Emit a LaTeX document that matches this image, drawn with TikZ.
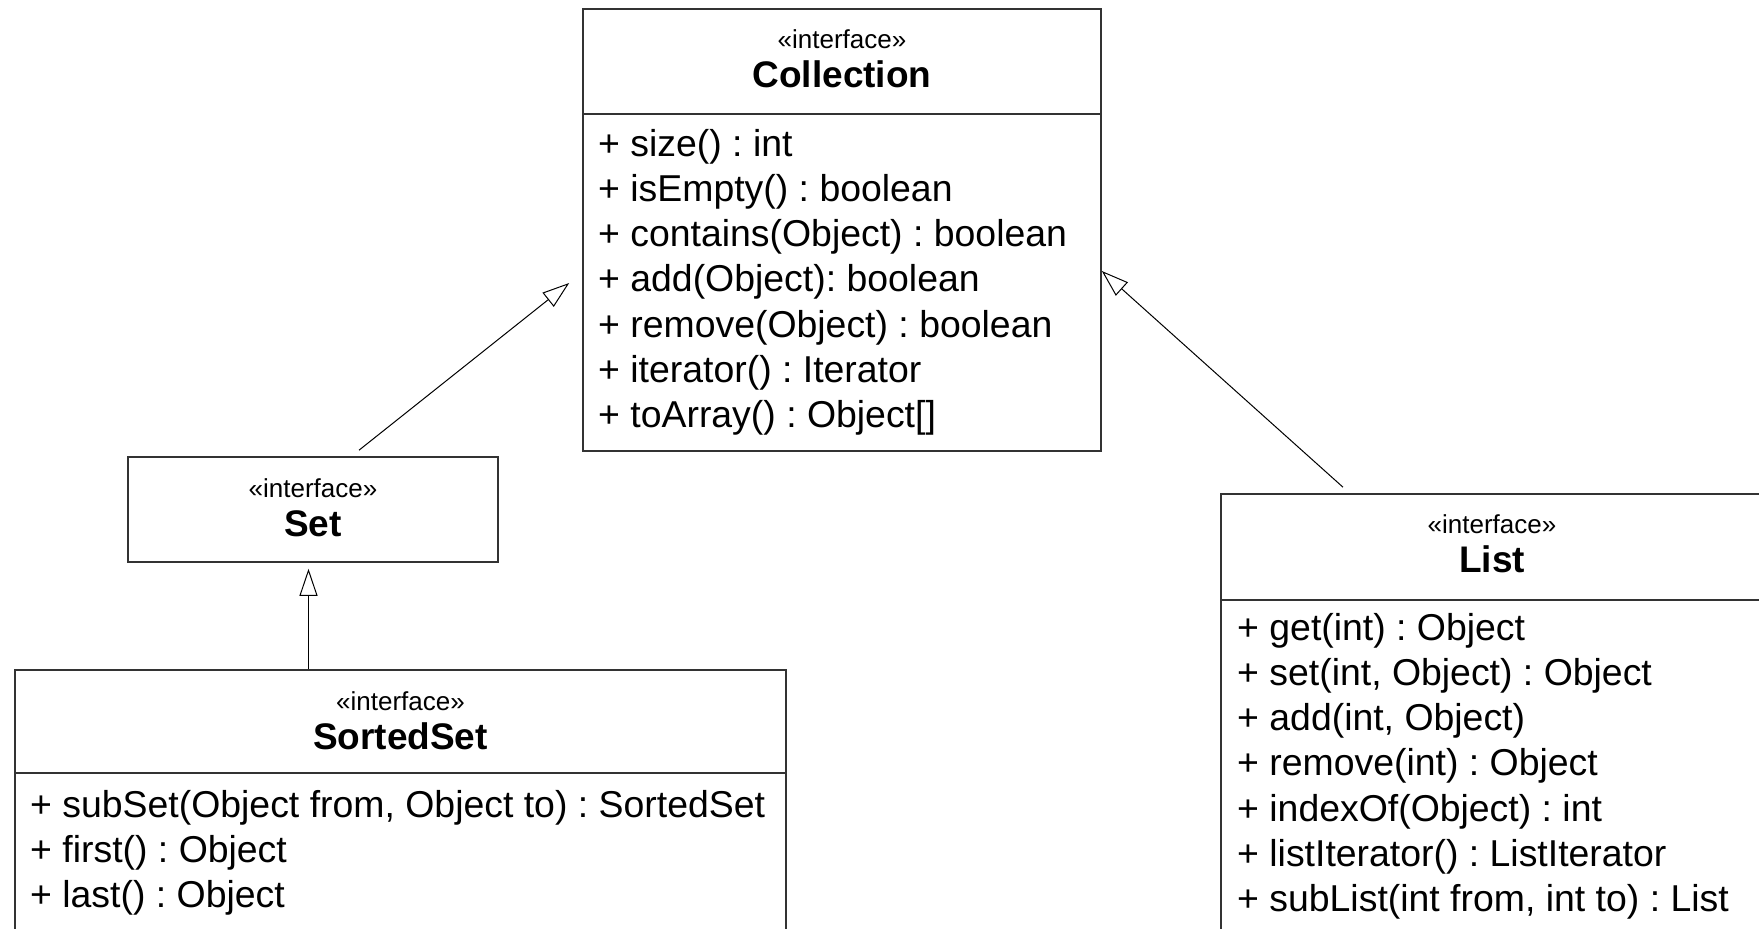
\documentclass[tikz,border=0pt]{standalone}
\usepackage{fontspec}
\setmainfont{Liberation Sans}
\usetikzlibrary{arrows.meta,calc}
\frenchspacing
\begin{document}
\begin{tikzpicture}[x=1pt,y=-1pt,
  box/.style={draw=black!80, line width=1.6pt, rectangle, inner sep=0pt, fill=none},
  divline/.style={draw=black!80, line width=1.6pt},
  stereo/.style={font=\frenchspacing\fontsize{26}{30}\selectfont, anchor=base, inner sep=0pt},
  cname/.style={font=\frenchspacing\fontsize{37}{44}\selectfont\bfseries, anchor=base, inner sep=0pt},
  member/.style={font=\frenchspacing\fontsize{37.4}{45}\selectfont, anchor=base west, inner sep=0pt},
  gen/.style={draw=black, line width=1pt, -{Triangle[open, length=27pt, width=18pt, line width=1pt]}}
]
\useasboundingbox (0,0) rectangle (1759,929);
\clip (0,0) rectangle (1759,929);

% Collection
\node[box, minimum width=518pt, minimum height=442pt] (coll) at (842,230) {};
\draw[divline] (583,114) coordinate (cdl) -- (1101,114) coordinate (cdr);
\node[stereo] (collst) at (842,48) {«interface»};
\node[cname] (collnm) at (842,87) {Collection};
\foreach \t [count=\i] in {{+ size() : int},{+ isEmpty() : boolean},{+ contains(Object) : boolean},{+ add(Object): boolean},{+ remove(Object) : boolean},{+ iterator() : Iterator},{+ toArray() : Object[]}}
  \node[member] (cm\i) at (598,{156+45.3*(\i-1)}) {\t};

% Set
\node[box, minimum width=370pt, minimum height=105pt] (set) at (313,509.5) {};
\node[stereo] (setst) at (313,497) {«interface»};
\node[cname] (setnm) at (313,536) {Set};

% SortedSet
\node[box, minimum width=771pt, minimum height=290pt] (sset) at (400.5,815) {};
\draw[divline] (15,773) coordinate (sdl) -- (786,773) coordinate (sdr);
\node[stereo] (sst) at (400.5,710) {«interface»};
\node[cname] (ssnm) at (400.5,749) {SortedSet};
\foreach \t [count=\i] in {{+ subSet(Object from, Object to) : SortedSet},{+ first() : Object},{+ last() : Object}}
  \node[member] (sm\i) at (30,{817+45.3*(\i-1)}) {\t};

% List
\node[box, minimum width=542pt, minimum height=466pt] (list) at (1492,727) {};
\draw[divline] (1221,600) coordinate (ldl) -- (1763,600) coordinate (ldr);
\node[stereo] (lst) at (1492,533) {«interface»};
\node[cname] (lnm) at (1492,572) {List};
\foreach \t [count=\i] in {{+ get(int) : Object},{+ set(int, Object) : Object},{+ add(int, Object)},{+ remove(int) : Object},{+ indexOf(Object) : int},{+ listIterator() : ListIterator},{+ subList(int from, int to) : List}}
  \node[member] (lm\i) at (1237,{640+45.3*(\i-1)}) {\t};

% Generalizations
\draw[gen] ($(set.north)+(46,-6)$) -- ($(coll.west)+(-13,53)$);
\draw[gen] ($(list.north)+(-149,-6)$) -- ($(coll.east)+(0,41)$);
\draw[gen] ($(sset.north)+(-92,0)$) -- ($(set.south)+(-4.5,6)$);
\end{tikzpicture}
\end{document}
